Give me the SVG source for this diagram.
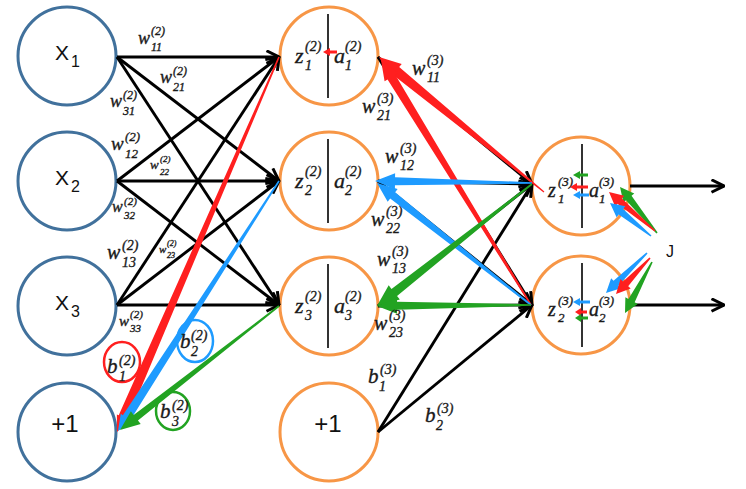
<svg xmlns="http://www.w3.org/2000/svg" width="746" height="489" viewBox="0 0 746 489">
<style>
.nb{fill:#fff;stroke:#41719c;stroke-width:3}
.no{fill:#fff;stroke:#f79646;stroke-width:3}
.dv{stroke:#333;stroke-width:2}
.lbl{font-family:"Liberation Sans",Arial,sans-serif;fill:#111}
.m{font-family:"Liberation Serif","Times New Roman",serif;font-style:italic;fill:#1a1a1a;stroke:#1a1a1a;stroke-width:0.35}
.ln{stroke:#000;stroke-width:2.9;fill:none;marker-end:url(#ah)}
.r{fill:#ff1f1f}.b{fill:#1e9bff}.g{fill:#22a322}
</style>
<defs>
<marker id="ah" viewBox="0 0 12 12" refX="11" refY="6" markerWidth="15" markerHeight="15" orient="auto" markerUnits="userSpaceOnUse">
<path d="M1,1 L11,6 L1,11" fill="none" stroke="#000" stroke-width="2.4"/>
</marker>
</defs>
<rect width="746" height="489" fill="#fff"/>

<g id="x1"><circle class="nb" cx="67" cy="56" r="49"/><text class="lbl"><tspan x="55" y="60" font-size="21">X</tspan><tspan x="71" y="67" font-size="16">1</tspan></text></g>
<g id="x2"><circle class="nb" cx="67" cy="181" r="49"/><text class="lbl"><tspan x="55" y="185" font-size="21">X</tspan><tspan x="71" y="192" font-size="16">2</tspan></text></g>
<g id="x3"><circle class="nb" cx="67" cy="306" r="49"/><text class="lbl"><tspan x="55" y="310" font-size="21">X</tspan><tspan x="71" y="317" font-size="16">3</tspan></text></g>
<g id="bias1"><circle class="nb" cx="67" cy="432" r="49"/><text class="lbl" x="65" y="432" font-size="24" text-anchor="middle">+1</text></g>

<g id="h1"><circle class="no" cx="329" cy="56" r="49"/><line class="dv" x1="328" y1="14" x2="328" y2="98"/>
<text class="m"><tspan x="295" y="63" font-size="22">z</tspan><tspan x="305" y="51" font-size="14">(2)</tspan><tspan x="305" y="70" font-size="14">1</tspan></text>
<text class="m"><tspan x="334" y="63" font-size="22">a</tspan><tspan x="345" y="51" font-size="14">(2)</tspan><tspan x="345" y="70" font-size="14">1</tspan></text>
<polygon class="r" points="323,52 330,48 330,50.5 337,50.5 337,53.5 330,53.5 330,56"/></g>
<g id="h2"><circle class="no" cx="329" cy="181" r="49"/><line class="dv" x1="328" y1="139" x2="328" y2="223"/>
<text class="m"><tspan x="295" y="188" font-size="22">z</tspan><tspan x="305" y="176" font-size="14">(2)</tspan><tspan x="305" y="195" font-size="14">2</tspan></text>
<text class="m"><tspan x="334" y="188" font-size="22">a</tspan><tspan x="345" y="176" font-size="14">(2)</tspan><tspan x="345" y="195" font-size="14">2</tspan></text></g>
<g id="h3"><circle class="no" cx="329" cy="306" r="49"/><line class="dv" x1="328" y1="264" x2="328" y2="348"/>
<text class="m"><tspan x="295" y="313" font-size="22">z</tspan><tspan x="305" y="301" font-size="14">(2)</tspan><tspan x="305" y="320" font-size="14">3</tspan></text>
<text class="m"><tspan x="334" y="313" font-size="22">a</tspan><tspan x="345" y="301" font-size="14">(2)</tspan><tspan x="345" y="320" font-size="14">3</tspan></text></g>
<g id="bias2"><circle class="no" cx="329" cy="432" r="49"/><text class="lbl" x="328" y="432" font-size="24" text-anchor="middle">+1</text></g>

<g id="o1"><circle class="no" cx="581" cy="186" r="49"/><line class="dv" x1="582" y1="144" x2="582" y2="228"/>
<text class="m"><tspan x="548" y="197" font-size="20">z</tspan><tspan x="558" y="186" font-size="13">(3)</tspan><tspan x="558" y="203" font-size="13">1</tspan></text>
<text class="m"><tspan x="589" y="197" font-size="20">a</tspan><tspan x="599" y="186" font-size="13">(3)</tspan><tspan x="599" y="203" font-size="13">1</tspan></text>
<polygon class="g" points="573,175 580,171 580,173.5 588,173.5 588,176.5 580,176.5 580,179"/>
<polygon class="r" points="570,187 577,183 577,185.5 588,185.5 588,188.5 577,188.5 577,191"/>
<polygon class="b" points="573,195 580,191 580,193.5 589,193.5 589,196.5 580,196.5 580,199"/></g>
<g id="o2"><circle class="no" cx="581" cy="305" r="49"/><line class="dv" x1="582" y1="263" x2="582" y2="347"/>
<text class="m"><tspan x="548" y="316" font-size="20">z</tspan><tspan x="558" y="305" font-size="13">(3)</tspan><tspan x="558" y="322" font-size="13">2</tspan></text>
<text class="m"><tspan x="589" y="316" font-size="20">a</tspan><tspan x="599" y="305" font-size="13">(3)</tspan><tspan x="599" y="322" font-size="13">2</tspan></text>
<polygon class="b" points="573,302 580,298 580,300.5 590,300.5 590,303.5 580,303.5 580,306"/>
<polygon class="r" points="575,312 581,308 581,310.5 587,310.5 587,313.5 581,313.5 581,316"/>
<polygon class="g" points="575,318 581,314 581,316.5 588,316.5 588,319.5 581,319.5 581,322"/></g>

<g id="connectors">
<line class="ln" x1="117" y1="57" x2="279" y2="57"/>
<line class="ln" x1="117" y1="57" x2="279" y2="181"/>
<line class="ln" x1="117" y1="57" x2="279" y2="305"/>
<line class="ln" x1="117" y1="181" x2="279" y2="57"/>
<line class="ln" x1="117" y1="181" x2="279" y2="181"/>
<line class="ln" x1="117" y1="181" x2="279" y2="305"/>
<line class="ln" x1="117" y1="305" x2="279" y2="57"/>
<line class="ln" x1="117" y1="305" x2="279" y2="181"/>
<line class="ln" x1="117" y1="305" x2="279" y2="305"/>
<line class="ln" x1="378" y1="57" x2="532" y2="184"/>
<line class="ln" x1="378" y1="57" x2="532" y2="305"/>
<line class="ln" x1="378" y1="181" x2="532" y2="184"/>
<line class="ln" x1="378" y1="181" x2="532" y2="305"/>
<line class="ln" x1="378" y1="306" x2="532" y2="184"/>
<line class="ln" x1="378" y1="306" x2="532" y2="305"/>
<line class="ln" x1="378" y1="432" x2="532" y2="184"/>
<line class="ln" x1="378" y1="432" x2="532" y2="305"/>
<line class="ln" x1="630" y1="186" x2="724" y2="186"/>
<line class="ln" x1="630" y1="305" x2="724" y2="305"/>

<polygon class="r" transform="translate(279,57) rotate(113.37)" points="0,-0.8 392.5,-5 392.5,-7 408.5,0 392.5,7 392.5,5 0,0.8"/>
<polygon class="b" transform="translate(279,181) rotate(122.78)" points="0,-0.8 281.4,-4.5 281.4,-7 297.4,0 281.4,7 281.4,4.5 0,0.8"/>
<polygon class="g" transform="translate(279,306) rotate(142.05)" points="0,-0.8 181.6,-3.5 181.6,-8 201.6,0 181.6,8 181.6,3.5 0,0.8"/>

<polygon class="r" transform="translate(544,192) rotate(-140.71)" points="0,-0.6 191.2,-5 191.2,-9 213.2,0 191.2,9 191.2,5 0,0.6"/>
<polygon class="r" transform="translate(531,305) rotate(-121.48)" points="0,-0.8 267.3,-4.5 267.3,-8 287.3,0 267.3,8 267.3,4.5 0,0.8"/>
<polygon class="b" transform="translate(532,183) rotate(-179.27)" points="0,-0.8 137,-4 137,-8 157,0 137,8 137,4 0,0.8"/>
<polygon class="b" transform="translate(531,305) rotate(-141.61)" points="0,-0.8 176.5,-4 176.5,-8 196.5,0 176.5,8 176.5,4 0,0.8"/>
<polygon class="g" transform="translate(532,184) rotate(141.79)" points="0,-0.8 175.3,-4.5 175.3,-9 197.3,0 175.3,9 175.3,4.5 0,0.8"/>
<polygon class="g" transform="translate(531,305) rotate(179.63)" points="0,-0.8 134,-4 134,-8 154,0 134,8 134,4 0,0.8"/>

<polygon class="g" transform="translate(657,233) rotate(-128.81)" points="0,-0.8 45,-3.5 45,-7 59,0 45,7 45,3.5 0,0.8"/>
<polygon class="r" transform="translate(655,231) rotate(-139.71)" points="0,-0.8 46.3,-3.5 46.3,-7 60.3,0 46.3,7 46.3,3.5 0,0.8"/>
<polygon class="b" transform="translate(651,236) rotate(-141.17)" points="0,-0.8 38.6,-3.5 38.6,-7 52.6,0 38.6,7 38.6,3.5 0,0.8"/>
<polygon class="b" transform="translate(647,253) rotate(135.71)" points="0,-0.8 43.3,-3.5 43.3,-7 57.3,0 43.3,7 43.3,3.5 0,0.8"/>
<polygon class="r" transform="translate(650,258) rotate(133.36)" points="0,-0.8 35.5,-3.5 35.5,-7 49.5,0 35.5,7 35.5,3.5 0,0.8"/>
<polygon class="g" transform="translate(652,262) rotate(117.89)" points="0,-0.8 43.7,-3.5 43.7,-7 57.7,0 43.7,7 43.7,3.5 0,0.8"/>
</g>

<g id="labels">
<text class="m"><tspan x="138" y="44" font-size="18">w</tspan><tspan x="151" y="35" font-size="12">(2)</tspan><tspan x="151" y="51" font-size="12">11</tspan></text>
<text class="m"><tspan x="160" y="83" font-size="18">w</tspan><tspan x="173" y="75" font-size="12">(2)</tspan><tspan x="173" y="91" font-size="12">21</tspan></text>
<text class="m"><tspan x="110" y="107" font-size="18">w</tspan><tspan x="123" y="99" font-size="12">(2)</tspan><tspan x="123" y="115" font-size="12">31</tspan></text>
<text class="m"><tspan x="111" y="150" font-size="19">w</tspan><tspan x="125" y="141" font-size="13">(2)</tspan><tspan x="125" y="158" font-size="13">12</tspan></text>
<text class="m"><tspan x="150" y="169" font-size="13">w</tspan><tspan x="160" y="162" font-size="9">(2)</tspan><tspan x="160" y="175" font-size="9">22</tspan></text>
<text class="m"><tspan x="112" y="212" font-size="16">w</tspan><tspan x="124" y="205" font-size="11">(2)</tspan><tspan x="124" y="219" font-size="11">32</tspan></text>
<text class="m"><tspan x="107" y="259" font-size="20">w</tspan><tspan x="122" y="250" font-size="14">(2)</tspan><tspan x="122" y="267" font-size="14">13</tspan></text>
<text class="m"><tspan x="159" y="253" font-size="11">w</tspan><tspan x="167" y="246" font-size="8">(2)</tspan><tspan x="167" y="258" font-size="8">23</tspan></text>
<text class="m"><tspan x="119" y="326" font-size="15">w</tspan><tspan x="130" y="318" font-size="11">(2)</tspan><tspan x="130" y="332" font-size="11">33</tspan></text>

<ellipse cx="122" cy="362" rx="18" ry="20" fill="none" stroke="#ff1f1f" stroke-width="2.5"/>
<ellipse cx="195" cy="341" rx="18" ry="21" fill="none" stroke="#1e9bff" stroke-width="2.5"/>
<ellipse cx="173" cy="411" rx="17" ry="19" fill="none" stroke="#22a322" stroke-width="2.5"/>
<text class="m"><tspan x="107" y="373" font-size="21">b</tspan><tspan x="119" y="365" font-size="14">(2)</tspan><tspan x="119" y="381" font-size="14">1</tspan></text>
<text class="m"><tspan x="180" y="348" font-size="21">b</tspan><tspan x="191" y="340" font-size="14">(2)</tspan><tspan x="191" y="356" font-size="14">2</tspan></text>
<text class="m"><tspan x="160" y="418" font-size="21">b</tspan><tspan x="172" y="410" font-size="14">(2)</tspan><tspan x="172" y="426" font-size="14">3</tspan></text>

<text class="m"><tspan x="412" y="75" font-size="20">w</tspan><tspan x="427" y="65" font-size="14">(3)</tspan><tspan x="427" y="82" font-size="14">11</tspan></text>
<text class="m"><tspan x="362" y="113" font-size="20">w</tspan><tspan x="377" y="103" font-size="14">(3)</tspan><tspan x="377" y="120" font-size="14">21</tspan></text>
<text class="m"><tspan x="385" y="163" font-size="20">w</tspan><tspan x="400" y="153" font-size="14">(3)</tspan><tspan x="400" y="170" font-size="14">12</tspan></text>
<text class="m"><tspan x="371" y="226" font-size="20">w</tspan><tspan x="386" y="216" font-size="14">(3)</tspan><tspan x="386" y="233" font-size="14">22</tspan></text>
<text class="m"><tspan x="377" y="266" font-size="20">w</tspan><tspan x="392" y="256" font-size="14">(3)</tspan><tspan x="392" y="273" font-size="14">13</tspan></text>
<text class="m"><tspan x="374" y="330" font-size="20">w</tspan><tspan x="389" y="320" font-size="14">(3)</tspan><tspan x="389" y="337" font-size="14">23</tspan></text>
<text class="m"><tspan x="368" y="383" font-size="21">b</tspan><tspan x="380" y="374" font-size="14">(3)</tspan><tspan x="379" y="391" font-size="14">1</tspan></text>
<text class="m"><tspan x="425" y="422" font-size="21">b</tspan><tspan x="437" y="413" font-size="14">(3)</tspan><tspan x="436" y="430" font-size="14">2</tspan></text>

<text class="lbl" x="666" y="257" font-size="16" fill="#333">J</text>
</g>
</svg>
